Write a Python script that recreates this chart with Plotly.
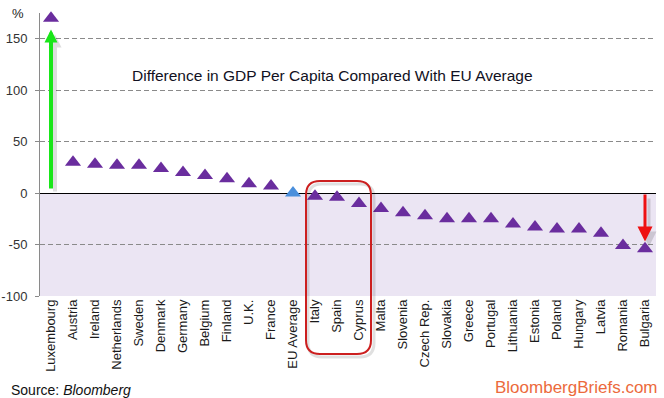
import plotly.graph_objects as go

countries = ["Luxembourg", "Austria", "Ireland", "Netherlands", "Sweden", "Denmark",
             "Germany", "Belgium", "Finland", "U.K.", "France", "EU Average", "Italy",
             "Spain", "Cyprus", "Malta", "Slovenia", "Czech Rep.", "Slovakia", "Greece",
             "Portugal", "Lithuania", "Estonia", "Poland", "Hungary", "Latvia",
             "Romania", "Bulgaria"]
gdp_diff = [170, 30, 28, 27, 27, 24, 20, 17, 14, 9, 7, 0, -3, -4, -10, -15, -19, -22,
            -25, -25, -25, -30, -33, -35, -35, -39, -51, -54]
y_ticks = [-100, -50, 0, 50, 100, 150]

PURPLE = "#6a2d9e"
BLUE = "#4a8fdc"
colors = [BLUE if c == "EU Average" else PURPLE for c in countries]

FONT = "Liberation Sans"

fig = go.Figure()
fig.add_trace(go.Scatter(
    x=countries, y=gdp_diff, mode="markers",
    marker=dict(symbol="triangle-up", size=14, color=colors, line=dict(width=0)),
    cliponaxis=False, hoverinfo="x+y", showlegend=False,
))

# lavender band below zero
fig.add_shape(type="rect", xref="paper", yref="y", x0=0, x1=1, y0=-100, y1=0,
              fillcolor="#ebe5f3", line=dict(width=0), layer="below")

# shadow + green arrow (Luxembourg)
fig.add_annotation(x=countries[0], y=157, xref="x", yref="y",
                   ax=0, ay=3, axref="pixel", ayref="y",
                   xshift=4, yshift=-3,
                   showarrow=True, arrowhead=2, arrowsize=0.65, arrowwidth=4,
                   arrowcolor="rgba(0,0,0,0.13)", text="")
fig.add_annotation(x=countries[0], y=159, xref="x", yref="y",
                   ax=0, ay=3, axref="pixel", ayref="y",
                   showarrow=True, arrowhead=2, arrowsize=0.65, arrowwidth=4,
                   arrowcolor="#19e619", text="")

# shadow + red arrow (Bulgaria)
fig.add_annotation(x=countries[-1], y=-49, xref="x", yref="y",
                   ax=0, ay=-1, axref="pixel", ayref="y",
                   xshift=4, yshift=-3,
                   showarrow=True, arrowhead=2, arrowsize=1.0, arrowwidth=3,
                   arrowcolor="rgba(0,0,0,0.13)", text="")
fig.add_annotation(x=countries[-1], y=-47, xref="x", yref="y",
                   ax=0, ay=0, axref="pixel", ayref="y",
                   showarrow=True, arrowhead=2, arrowsize=1.0, arrowwidth=3,
                   arrowcolor="#ee1111", text="")

# rounded rectangle around Italy / Spain / Cyprus
def rrect(x0, x1, y0, y1, rx, ry):
    return (f"M{x0+rx},{y1} L{x1-rx},{y1} Q{x1},{y1} {x1},{y1-ry} "
            f"L{x1},{y0+ry} Q{x1},{y0} {x1-rx},{y0} "
            f"L{x0+rx},{y0} Q{x0},{y0} {x0},{y0+ry} "
            f"L{x0},{y1-ry} Q{x0},{y1} {x0+rx},{y1} Z")

W, H = 616.0, 283.0
def px(x):
    return (x - 40) / W
def py(y):
    return (296 - y) / H

fig.add_shape(type="path", xref="paper", yref="paper",
              path=rrect(px(308), px(374), py(357), py(184), 14 / W, 14 / H),
              line=dict(color="rgba(0,0,0,0.12)", width=3))
fig.add_shape(type="path", xref="paper", yref="paper",
              path=rrect(px(306), px(371), py(354), py(181), 14 / W, 14 / H),
              line=dict(color="#cc1f1f", width=2))

# title
fig.add_annotation(text="Difference in GDP Per Capita Compared With EU Average",
                   xref="paper", yref="paper", x=px(332), y=py(75),
                   showarrow=False, xanchor="center", yanchor="middle",
                   font=dict(family=FONT, size=15.5, color="#111122"))
# % label
fig.add_annotation(text="%", xref="paper", yref="paper", x=px(18), y=py(13),
                   showarrow=False, xanchor="center", yanchor="middle",
                   font=dict(family=FONT, size=13, color="#222222"))
# source
fig.add_annotation(text="Source: <i>Bloomberg</i>", xref="paper", yref="paper",
                   x=px(9), y=py(390), showarrow=False, xanchor="left", yanchor="middle",
                   font=dict(family=FONT, size=14, color="#111111"))
# brand
fig.add_annotation(text="BloombergBriefs.com", xref="paper", yref="paper",
                   x=px(660), y=py(387), showarrow=False, xanchor="right", yanchor="middle",
                   font=dict(family=FONT, size=17, color="#ec6a3c"))

fig.update_layout(
    width=664, height=398,
    margin=dict(l=40, r=8, t=13, b=102),
    paper_bgcolor="white", plot_bgcolor="white",
    font=dict(family=FONT, color="#222222"),
    showlegend=False,
)
fig.update_xaxes(
    type="category", categoryorder="array", categoryarray=countries,
    range=[-0.5, len(countries) - 0.5], automargin=False,
    tickangle=-90, tickfont=dict(family=FONT, size=13, color="#1a1a1a"),
    showgrid=False, showline=False, ticks="", zeroline=False,
)
fig.update_yaxes(
    range=[-100, 175], tickvals=y_ticks, ticktext=[str(v) for v in y_ticks],
    automargin=False,
    tickfont=dict(family=FONT, size=13, color="#333333"),
    showgrid=True, gridcolor="#8a8a8a", gridwidth=1, griddash="5px,3px",
    zeroline=True, zerolinecolor="#000000", zerolinewidth=1,
    showline=True, linecolor="#8a8a8a", linewidth=1,
    ticks="outside", ticklen=4, tickcolor="#8a8a8a", ticklabelstandoff=5,
)

fig.write_html("out.html",
               config={"displayModeBar": False},
               post_script="document.body.style.margin='0';document.body.style.padding='0';")
